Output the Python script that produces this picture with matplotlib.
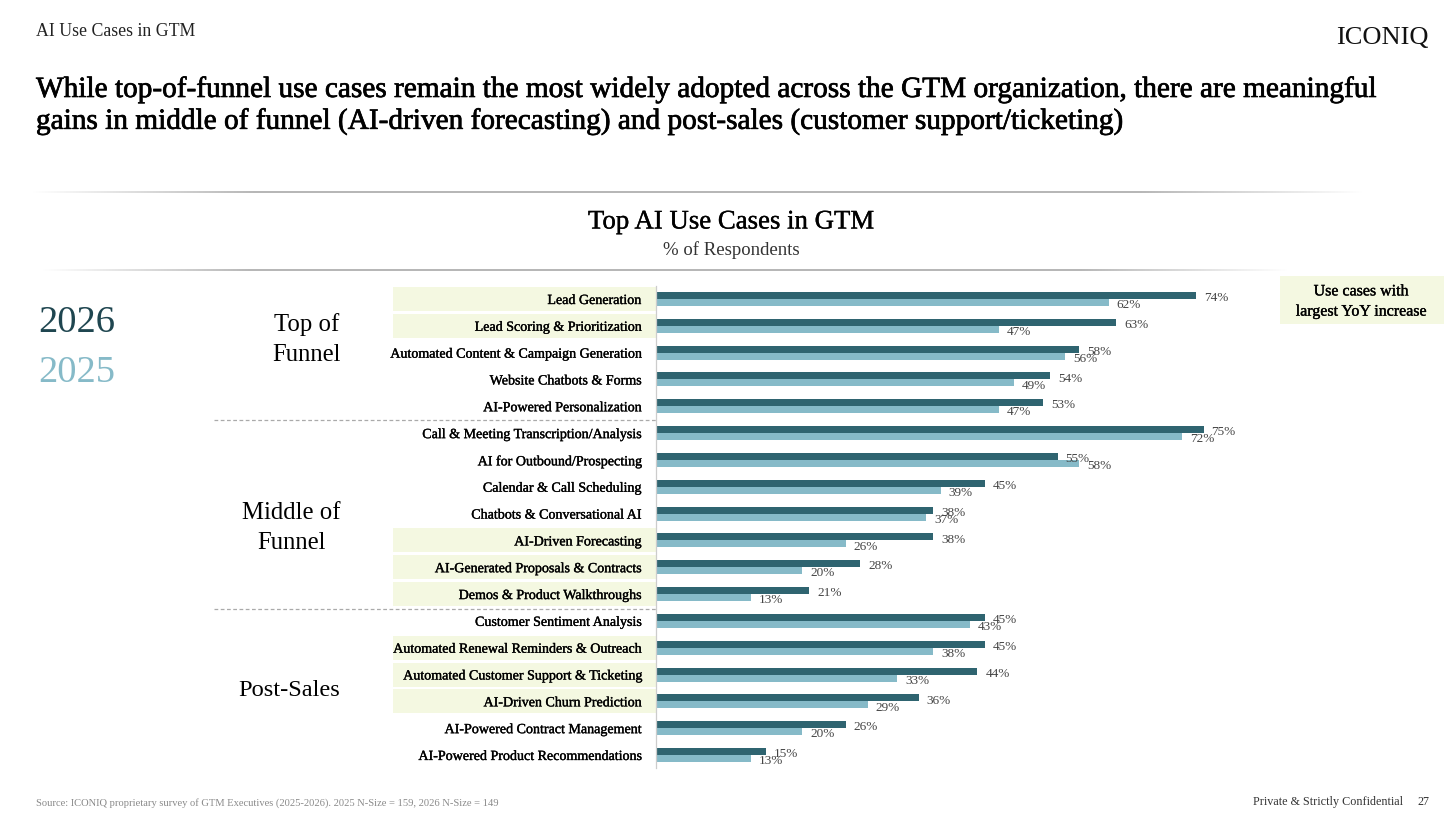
import matplotlib
matplotlib.use('Agg')
import matplotlib.pyplot as plt
import matplotlib.patheffects as pe
import numpy as np

plt.rcParams['font.family'] = ['Liberation Serif', 'DejaVu Serif']

use_cases = [
    'Lead Generation', 'Lead Scoring & Prioritization',
    'Automated Content & Campaign Generation', 'Website Chatbots & Forms',
    'AI-Powered Personalization', 'Call & Meeting Transcription/Analysis',
    'AI for Outbound/Prospecting', 'Calendar & Call Scheduling',
    'Chatbots & Conversational AI', 'AI-Driven Forecasting',
    'AI-Generated Proposals & Contracts', 'Demos & Product Walkthroughs',
    'Customer Sentiment Analysis', 'Automated Renewal Reminders & Outreach',
    'Automated Customer Support & Ticketing', 'AI-Driven Churn Prediction',
    'AI-Powered Contract Management', 'AI-Powered Product Recommendations',
]
values_2026 = [74, 63, 58, 54, 53, 75, 55, 45, 38, 38, 28, 21, 45, 45, 44, 36, 26, 15]
values_2025 = [62, 47, 56, 49, 47, 72, 58, 39, 37, 26, 20, 13, 43, 38, 33, 29, 20, 13]
highlighted = [0, 1, 9, 10, 11, 13, 14, 15]

dark = '#2f6470'
light = '#86bac8'
pale = '#f4f8e1'
text_grey = '#444444'

# the reference type is heavier than Liberation Serif
heavy = [pe.withStroke(linewidth=0.5, foreground='black')]
medium = [pe.withStroke(linewidth=0.25, foreground='black')]

fig = plt.figure(figsize=(14.56, 8.28), dpi=100, facecolor='white')

# page layer in pixel coordinates
page = fig.add_axes([0, 0, 1, 1])
page.set_xlim(0, 1456)
page.set_ylim(828, 0)
page.axis('off')

page.text(36, 31, 'AI Use Cases in GTM', fontsize=12.8, va='center', color='#222222')
page.text(1429, 38, 'ICONIQ', fontsize=19, va='center', ha='right', color='#111111')
page.text(36, 90.5, 'While top-of-funnel use cases remain the most widely adopted across the GTM organization, there are meaningful',
          fontsize=21.1, va='center', color='black', path_effects=heavy)
page.text(36, 122.5, 'gains in middle of funnel (AI-driven forecasting) and post-sales (customer support/ticketing)',
          fontsize=21.1, va='center', color='black', path_effects=heavy)
page.text(731, 223, 'Top AI Use Cases in GTM', fontsize=19.3, va='center', ha='center', color='black', path_effects=medium)
page.text(731, 250, '% of Respondents', fontsize=13.5, va='center', ha='center', color='#333333')

# the two rules fade out at their ends
fade = np.ones((1, 300, 4))
fade[..., :3] = 0.72
fade[..., 3] = np.clip(np.minimum(np.linspace(0, 6, 300), np.linspace(6, 0, 300)), 0, 1)
page.imshow(fade, extent=(30, 1365, 194.5, 192.5), aspect='auto', interpolation='bilinear')
page.imshow(fade, extent=(40, 1290, 272, 270), aspect='auto', interpolation='bilinear')
page.set_xlim(0, 1456)
page.set_ylim(828, 0)

page.text(38, 322.5, '2026', fontsize=27.7, va='center', color='#1f4650')
page.text(38, 372.5, '2025', fontsize=27.7, va='center', color=light)

page.text(341, 339.5, 'Top of\nFunnel', fontsize=17.8, va='center', ha='right', linespacing=1.46, color='black', multialignment='center')
page.text(341, 528, 'Middle of\nFunnel', fontsize=17.8, va='center', ha='right', linespacing=1.46, color='black', multialignment='center')
page.text(340, 691, 'Post-Sales', fontsize=17.6, va='center', ha='right', color='black')

page.plot([214, 656], [421, 421], color='#aaaaaa', lw=0.9, ls=(0, (3, 2)))
page.plot([214, 656], [610, 610], color='#aaaaaa', lw=0.9, ls=(0, (3, 2)))

page.add_patch(plt.Rectangle((1280, 277), 164, 48, facecolor=pale, edgecolor='none'))
page.text(1361, 302.5, 'Use cases with\nlargest YoY increase', fontsize=11.5, va='center', ha='center', linespacing=1.35,
          color='black', path_effects=medium)

page.text(36, 803, 'Source: ICONIQ proprietary survey of GTM Executives (2025-2026). 2025 N-Size = 159, 2026 N-Size = 149',
          fontsize=7.55, va='center', color='#8a8a8a')
page.text(1403, 802.5, 'Private & Strictly Confidential', fontsize=8.75, va='center', ha='right', color='#333333')
page.text(1429, 802.5, '27', fontsize=8.75, va='center', ha='right', color='#333333')

# chart layer: x0 at 656 px, 7.3 px per percent, rows 26.82 px apart
ax = fig.add_axes([656 / 1456, 1 - 769.4 / 828, 600 / 1456, (769.4 - 286.6) / 828])
ax.patch.set_alpha(0)
ax.set_xlim(0, 600 / 7.3)
ax.set_ylim(len(use_cases) - 0.5, -0.5)

rows = np.arange(len(use_cases))
bar_h = 7 / 26.82
for i in highlighted:
    ax.barh(i, -263 / 7.3, height=24 / 26.82, color=pale, clip_on=False, zorder=0)
ax.barh(rows - bar_h / 2, values_2026, height=bar_h, color=dark, zorder=2)
ax.barh(rows + bar_h / 2, values_2025, height=bar_h, color=light, zorder=2)

for i, (v26, v25) in enumerate(zip(values_2026, values_2025)):
    ax.annotate(f'{v26}%', (v26, i - bar_h / 2), xytext=(5.8, -1.2), textcoords='offset points',
                fontsize=9.5, va='center', color=text_grey, zorder=3)
    ax.annotate(f'{v25}%', (v25, i + bar_h / 2), xytext=(5.8, -1.2), textcoords='offset points',
                fontsize=9.5, va='center', color=text_grey, zorder=3)

ax.set_yticks(rows)
ax.set_yticklabels(use_cases, fontsize=10.1, color='black')
ax.tick_params(axis='y', length=0, pad=10.5)
for label in ax.get_yticklabels():
    label.set_path_effects(medium)
ax.set_xticks([])
for side in ['top', 'right', 'bottom']:
    ax.spines[side].set_visible(False)
ax.spines['left'].set_color('#cccccc')
ax.spines['left'].set_linewidth(0.9)

fig.savefig('out.png', dpi=100)
